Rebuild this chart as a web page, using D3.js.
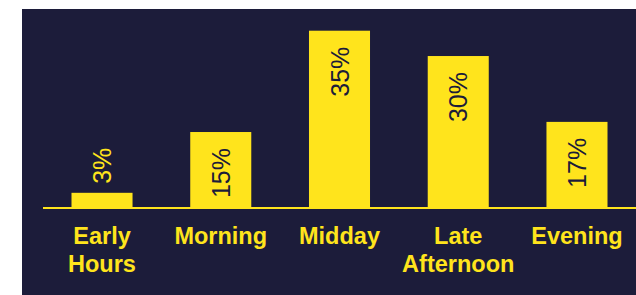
<!DOCTYPE html>
<html><head><meta charset="utf-8">
<script src="https://cdn.jsdelivr.net/npm/d3@7"></script>
<style>html,body{margin:0;padding:0;background:#fff;}svg{display:block;}</style>
</head><body>
<script>
const categories = [["Early","Hours"],["Morning"],["Midday"],["Late","Afternoon"],["Evening"]];
const values = [3, 15, 35, 30, 17];
const valueLabels = ["3%","15%","35%","30%","17%"];

const W = 636, H = 295;
const bg = "#1c1c3a", yellow = "#ffe41c";
const svg = d3.select("body").append("svg").attr("width", W).attr("height", H);
svg.append("rect").attr("x",22).attr("y",9).attr("width",W-22).attr("height",H-9).attr("fill",bg);

const x = d3.scaleBand().domain(d3.range(values.length)).range([43, 636]).paddingInner(0.486).paddingOuter(0.24);
const y = d3.scaleLinear().domain([0, 35]).range([208, 30.7]);

svg.selectAll("rect.bar").data(values).enter().append("rect").attr("class","bar")
  .attr("x",(d,i)=>x(i)).attr("width",x.bandwidth())
  .attr("y",d=>y(d)).attr("height",d=>y(0)-y(d)).attr("fill",yellow);

svg.append("line").attr("x1",43).attr("x2",636).attr("y1",y(0)).attr("y2",y(0))
  .attr("stroke",yellow).attr("stroke-width",2);

svg.selectAll("text.val").data(values).enter().append("text").attr("class","val")
  .attr("transform",(d,i)=>{
    const cx = x(i)+x.bandwidth()/2;
    const inside = d >= 10;
    const yy = inside ? y(d)+16 : y(d)-9;
    return `translate(${cx},${yy}) rotate(-90)`;
  })
  .attr("dy","0.36em")
  .attr("text-anchor",d=> d>=10 ? "end" : "start")
  .attr("font-family","'Liberation Sans', Arial, sans-serif")
  .attr("font-size",25)
  .attr("fill",d=> d>=10 ? bg : yellow)
  .text((d,i)=>valueLabels[i]);

const cat = svg.selectAll("text.cat").data(categories).enter().append("text").attr("class","cat")
  .attr("x",(d,i)=>x(i)+x.bandwidth()/2).attr("y",243.5)
  .attr("text-anchor","middle")
  .attr("font-family","'Liberation Sans', Arial, sans-serif")
  .attr("font-weight","bold").attr("font-size",23.5).attr("fill",yellow);
cat.selectAll("tspan").data(d=>d).enter().append("tspan")
  .attr("x",function(){return d3.select(this.parentNode).attr("x");})
  .attr("dy",(d,j)=> j===0 ? 0 : 28)
  .text(d=>d);
</script>
</body></html>
